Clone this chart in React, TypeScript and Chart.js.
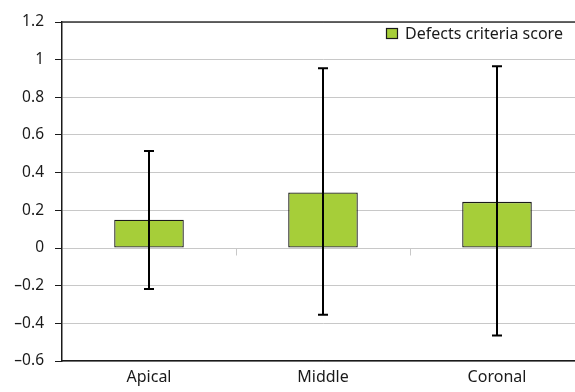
import React, { useEffect, useRef } from "react";
import { Chart, registerables } from "chart.js";

Chart.register(...registerables);

const categories = ["Apical", "Middle", "Coronal"];
const seriesName = "Defects criteria score";
const means = [0.15, 0.295, 0.245];
const errHigh = [0.515, 0.955, 0.965];
const errLow = [-0.218, -0.355, -0.465];

const INK = "#1a1a1a";
const GREEN = "#a6ce39";
const FONT = "'Noto Sans', 'Open Sans', sans-serif";

function fmtTick(v: any): string {
  const n = Math.round(Number(v) * 10) / 10;
  if (n === 0) return "0";
  return n < 0 ? "\u2013" + String(Math.abs(n)) : String(n);
}

const extrasPlugin = {
  id: "extras",
  afterDatasetsDraw(chart: any) {
    const { ctx, chartArea, scales } = chart;
    const x = scales.x;
    const y = scales.y;
    ctx.save();
    ctx.strokeStyle = "#000";
    ctx.lineWidth = 2;
    categories.forEach((_, i) => {
      const cx = Math.round(x.getPixelForValue(i));
      const yh = y.getPixelForValue(errHigh[i]);
      const yl = y.getPixelForValue(errLow[i]);
      ctx.beginPath();
      ctx.moveTo(cx, yh);
      ctx.lineTo(cx, yl);
      ctx.moveTo(cx - 5, yh);
      ctx.lineTo(cx + 5, yh);
      ctx.moveTo(cx - 5, yl);
      ctx.lineTo(cx + 5, yl);
      ctx.stroke();
    });
    const y0 = Math.round(y.getPixelForValue(0)) + 0.5;
    ctx.strokeStyle = "#c8c8c8";
    ctx.lineWidth = 1;
    for (let i = 1; i < categories.length; i++) {
      const bx = Math.round((x.getPixelForValue(i - 1) + x.getPixelForValue(i)) / 2) + 0.5;
      ctx.beginPath();
      ctx.moveTo(bx, y0);
      ctx.lineTo(bx, y0 + 7);
      ctx.stroke();
    }
    ctx.strokeStyle = "#333";
    ctx.lineWidth = 1.5;
    ctx.beginPath();
    ctx.moveTo(chartArea.left, chartArea.top);
    ctx.lineTo(chartArea.right, chartArea.top);
    ctx.stroke();
    // y tick labels
    ctx.fillStyle = INK;
    ctx.font = `15.5px ${FONT}`;
    ctx.textBaseline = "middle";
    ctx.textAlign = "right";
    y.ticks.forEach((t: any) => {
      ctx.fillText(fmtTick(t.value), chartArea.left - 18, y.getPixelForValue(t.value));
    });
    // legend
    const lx = 386;
    const ly = 28;
    ctx.fillStyle = GREEN;
    ctx.fillRect(lx, ly, 12, 11);
    ctx.strokeStyle = INK;
    ctx.lineWidth = 1.2;
    ctx.strokeRect(lx + 0.5, ly + 0.5, 11, 10);
    ctx.fillStyle = INK;
    ctx.font = `16px ${FONT}`;
    ctx.textAlign = "left";
    ctx.fillText(seriesName, 405, ly + 6);
    ctx.restore();
  },
};

export default function App() {
  const ref = useRef<HTMLCanvasElement | null>(null);
  useEffect(() => {
    if (!ref.current) return;
    const chart = new Chart(ref.current, {
      type: "bar",
      data: {
        labels: categories,
        datasets: [
          {
            label: seriesName,
            data: means,
            backgroundColor: GREEN,
            borderColor: INK,
            borderWidth: 1.3,
            borderSkipped: false,
            barPercentage: 0.4,
            categoryPercentage: 1,
          },
        ],
      },
      options: {
        animation: false,
        responsive: false,
        maintainAspectRatio: false,
        layout: { padding: { top: 22, right: 16, left: 0, bottom: 0 } },
        plugins: { legend: { display: false }, tooltip: { enabled: false } },
        scales: {
          x: {
            grid: { display: false, drawTicks: false },
            border: { display: true, color: INK, width: 1.5 },
            ticks: { color: INK, font: { family: FONT, size: 16 }, padding: 7 },
            afterFit: (s: any) => {
              s.height = 31;
            },
          },
          y: {
            min: -0.6,
            max: 1.2,
            ticks: {
              display: false,
              stepSize: 0.2,
            },
            grid: {
              color: "#c8c8c8",
              lineWidth: 1,
              tickLength: 7,
              tickColor: INK,
            },
            border: { display: true, color: INK, width: 1.5 },
            afterFit: (s: any) => {
              s.width = 62;
            },
          },
        },
      },
      plugins: [extrasPlugin],
    });
    return () => chart.destroy();
  }, []);
  return (
    <div
      style={{
        position: "fixed",
        left: 0,
        top: 0,
        width: 575,
        height: 392,
        overflow: "hidden",
        background: "#fff",
      }}
    >
      <canvas ref={ref} width={600} height={392} style={{ display: "block" }} />
    </div>
  );
}
